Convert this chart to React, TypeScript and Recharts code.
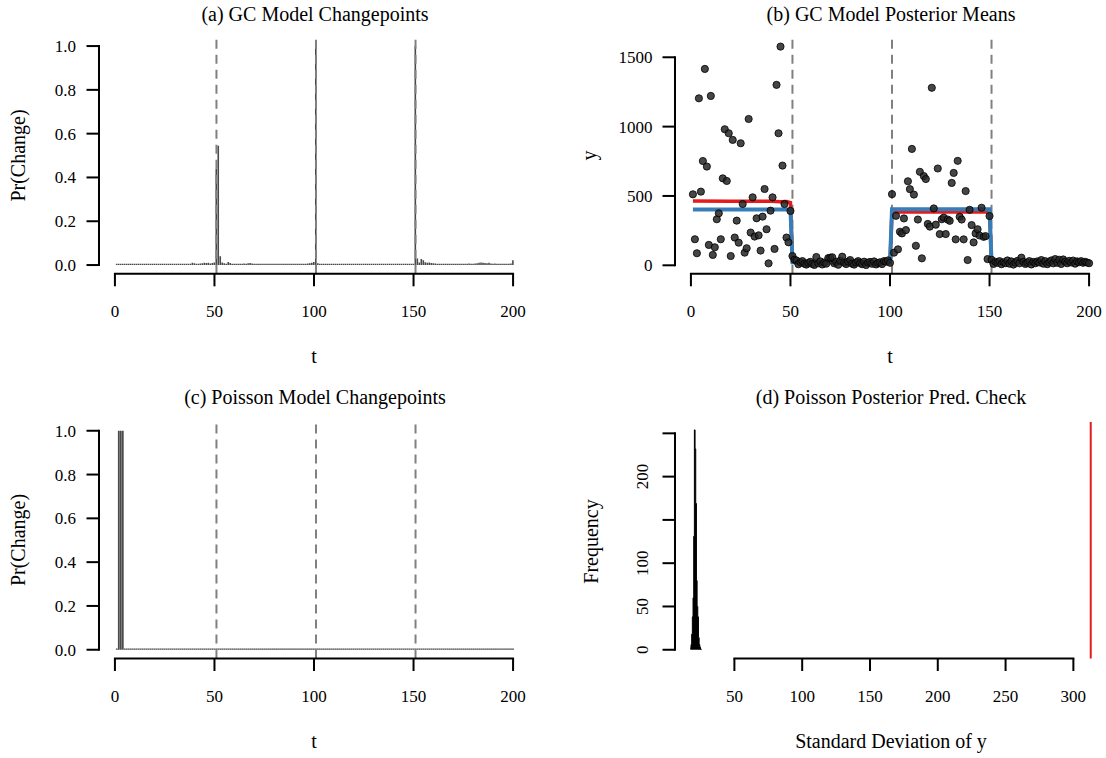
import React from 'react';
import {
  BarChart,
  Bar,
  ComposedChart,
  Scatter,
  Line,
  Area,
  XAxis,
  YAxis,
  ReferenceLine,
} from 'recharts';

const FONT = "'Liberation Serif', 'Times New Roman', serif";

// ---------- shared ticks / markers ----------
const timeTicks = [0, 50, 100, 150, 200];
const probTicks = [0, 0.2, 0.4, 0.6, 0.8, 1.0];
const probTickLabels = ['0.0', '0.2', '0.4', '0.6', '0.8', '1.0'];
const yTicksB = [0, 500, 1000, 1500];
const freqTicks = [0, 50, 100, 150, 200, 250];
const freqTickLabels = ['0', '50', '100', '', '200', ''];
const sdTicks = [50, 100, 150, 200, 250, 300];
const changepoints = [51, 101, 151];

// ---------- (a) GC model changepoint probabilities, t = 1..200 ----------
const gcChangeProb = [
  0.003, 0.003, 0.003, 0.002, 0.003, 0.003, 0.003, 0.002, 0.003, 0.003, 0.003, 0.003, 0.002, 0.003, 0.003, 0.003, 0.003, 0.003, 0.002, 0.003,
  0.003, 0.003, 0.003, 0.003, 0.003, 0.002, 0.003, 0.003, 0.003, 0.003, 0.003, 0.003, 0.004, 0.003, 0.004, 0.004, 0.005, 0.006, 0.010, 0.008,
  0.005, 0.006, 0.007, 0.008, 0.011, 0.009, 0.010, 0.007, 0.009, 0.012, 0.440, 0.545, 0.040, 0.012, 0.008, 0.006, 0.014, 0.009, 0.006, 0.005,
  0.006, 0.005, 0.006, 0.005, 0.007, 0.006, 0.008, 0.009, 0.007, 0.006, 0.005, 0.006, 0.005, 0.004, 0.005, 0.004, 0.004, 0.004, 0.005, 0.004,
  0.004, 0.005, 0.004, 0.004, 0.005, 0.004, 0.004, 0.005, 0.004, 0.005, 0.004, 0.004, 0.005, 0.005, 0.006, 0.006, 0.007, 0.008, 0.010, 0.014,
  1.000, 0.008, 0.006, 0.005, 0.006, 0.005, 0.004, 0.005, 0.005, 0.004, 0.004, 0.004, 0.004, 0.005, 0.004, 0.004, 0.004, 0.003, 0.004, 0.004,
  0.005, 0.004, 0.005, 0.004, 0.004, 0.005, 0.004, 0.004, 0.004, 0.005, 0.004, 0.004, 0.005, 0.004, 0.004, 0.004, 0.005, 0.004, 0.004, 0.004,
  0.004, 0.004, 0.004, 0.004, 0.005, 0.004, 0.004, 0.004, 0.005, 0.006, 1.000, 0.030, 0.012, 0.028, 0.022, 0.013, 0.010, 0.012, 0.009, 0.008,
  0.007, 0.006, 0.006, 0.005, 0.006, 0.005, 0.005, 0.004, 0.004, 0.004, 0.005, 0.004, 0.005, 0.005, 0.006, 0.005, 0.006, 0.007, 0.006, 0.006,
  0.007, 0.008, 0.010, 0.012, 0.011, 0.009, 0.008, 0.010, 0.007, 0.006, 0.007, 0.006, 0.005, 0.006, 0.006, 0.005, 0.006, 0.006, 0.007, 0.022,
];

// ---------- (b) observed series y, t = 1..200 ----------
const observedY = [
  512, 188, 87, 1204, 531, 752, 1416, 712, 147, 1221, 75, 130, 332, 375, 188, 627, 981, 608, 952, 67,
  904, 200, 322, 163, 880, 442, 91, 123, 1055, 236, 490, 207, 339, 216, 106, 351, 550, 260, 14, 394,
  490, 118, 1301, 952, 1577, 719, 442, 200, 166, 392, 67, 40, 35, 8, 22, 30, 12, 5, 18, 25,
  10, 3, 60, 15, 28, 6, 20, 12, 52, 55, 58, 14, 25, 4, 33, 62, 18, 9, 27, 38,
  12, 5, 21, 30, 16, 8, 26, 2, 19, 24, 11, 28, 6, 17, 22, 9, 30, 26, 35, 18,
  513, 91, 357, 115, 242, 230, 338, 254, 606, 549, 839, 510, 141, 330, 674, 50, 643, 622, 298, 279,
  1280, 410, 293, 698, 225, 332, 344, 225, 330, 321, 594, 666, 187, 753, 350, 330, 187, 535, 38, 400,
  290, 165, 230, 260, 215, 415, 205, 210, 45, 355, 40, 10, 25, 18, 30, 8, 22, 15, 35, 12,
  28, 5, 20, 32, 14, 55, 25, 10, 18, 30, 6, 24, 15, 28, 20, 38, 12, 30, 8, 22,
  35, 14, 45, 18, 40, 10, 42, 26, 15, 32, 20, 34, 12, 28, 22, 30, 18, 25, 20, 15,
];

// posterior mean (red) breakpoints
const postMeanT = [1, 20, 40, 45, 48, 50, 51, 52, 100, 101, 150, 151, 200];
const postMeanV = [463, 462, 461, 458, 460, 452, 28, 20, 17, 386, 384, 22, 20];
// underlying mean (blue) breakpoints
const trueMeanT = [1, 50, 51, 100, 101, 150, 151, 200];
const trueMeanV = [403, 403, 22, 22, 405, 405, 22, 20];

// ---------- (c) Poisson model changepoint probabilities, t = 1..200 ----------
const poissonChangeProb = [
  0, 1, 1, 1, 0, 0, 0, 0, 0, 0, 0, 0, 0, 0, 0, 0, 0, 0, 0, 0,
  0, 0, 0, 0, 0, 0, 0, 0, 0, 0, 0, 0, 0, 0, 0, 0, 0, 0, 0, 0,
  0, 0, 0, 0, 0, 0, 0, 0, 0, 0, 0, 0, 0, 0, 0, 0, 0, 0, 0, 0,
  0, 0, 0, 0, 0, 0, 0, 0, 0, 0, 0, 0, 0, 0, 0, 0, 0, 0, 0, 0,
  0, 0, 0, 0, 0, 0, 0, 0, 0, 0, 0, 0, 0, 0, 0, 0, 0, 0, 0, 0,
  0, 0, 0, 0, 0, 0, 0, 0, 0, 0, 0, 0, 0, 0, 0, 0, 0, 0, 0, 0,
  0, 0, 0, 0, 0, 0, 0, 0, 0, 0, 0, 0, 0, 0, 0, 0, 0, 0, 0, 0,
  0, 0, 0, 0, 0, 0, 0, 0, 0, 0, 0, 0, 0, 0, 0, 0, 0, 0, 0, 0,
  0, 0, 0, 0, 0, 0, 0, 0, 0, 0, 0, 0, 0, 0, 0, 0, 0, 0, 0, 0,
  0, 0, 0, 0, 0, 0, 0, 0, 0, 0, 0, 0, 0, 0, 0, 0, 0, 0, 0, 0,
];

// ---------- (d) histogram of replicated SDs ----------
const sdBinStart = [17.5, 18, 18.5, 19, 19.5, 20, 20.5, 21, 21.5, 22, 22.5, 23, 23.5, 24, 24.5, 25, 25.5];
const sdBinCount = [2, 6, 18, 38, 60, 131, 254, 232, 169, 80, 50, 38, 14, 6, 3, 1, 0];
const observedSd = 312.8;

// ---------- tables built from the arrays ----------
const gcData = gcChangeProb.map((p, i) => ({ t: i + 1, p }));
const poisData = poissonChangeProb.map((p, i) => ({ t: i + 1, p }));
const obsData = observedY.map((y, i) => ({ t: i + 1, y }));
const postMeanData = postMeanT.map((t, i) => ({ t, v: postMeanV[i] }));
const trueMeanData = trueMeanT.map((t, i) => ({ t, v: trueMeanV[i] }));
const histData = sdBinStart.map((x, i) => ({ x, n: sdBinCount[i] }));

// ---------- styling ----------
const tickStyle = { fontSize: 17, fill: '#000', fontFamily: FONT };
const tickLineStyle = { stroke: '#000', strokeWidth: 2 };
const AXIS = { stroke: '#000', strokeWidth: 2, strokeLinecap: 'square' as const };
const DASH = { stroke: '#808080', strokeWidth: 2, strokeDasharray: '9 6' };

const Dot = (props: any) => (
  <circle cx={props.cx} cy={props.cy} r={3.6} fill="#262626" fillOpacity={0.85} stroke="#000" strokeWidth={0.8} />
);

const RotTick = (props: any) => {
  const { x, y, payload } = props;
  const idx = freqTicks.indexOf(payload.value);
  const label = idx >= 0 ? freqTickLabels[idx] : String(payload.value);
  return (
    <text
      x={x}
      y={y}
      transform={`rotate(-90 ${x} ${y})`}
      textAnchor="middle"
      fontSize={17}
      fontFamily={FONT}
      fill="#000"
    >
      {label}
    </text>
  );
};

const probFmt = (v: number) => {
  const idx = probTicks.findIndex((p) => Math.abs(p - v) < 1e-9);
  return idx >= 0 ? probTickLabels[idx] : v.toFixed(1);
};

const PLOT_H = 236.5;

export default function App() {
  const panel = (left: number, top: number): React.CSSProperties => ({ position: 'absolute', left, top });
  return (
    <div
      style={{
        position: 'absolute',
        left: 0,
        top: 0,
        width: 1106,
        height: 758,
        background: '#fff',
        overflow: 'hidden',
        fontFamily: FONT,
      }}
    >
      {/* (a) */}
      <div style={panel(0, 0)}>
        <BarChart width={553} height={379} data={gcData} margin={{ top: 37.3, right: 24, bottom: 379 - 37.3 - PLOT_H - 60, left: 0 }}>
          <XAxis
            type="number"
            dataKey="t"
            domain={[-8, 208]}
            ticks={timeTicks}
            interval={0}
            allowDataOverflow
            axisLine={false}
            tickLine={tickLineStyle}
            tickSize={12.5}
            tickMargin={19}
            tick={tickStyle}
            height={60}
          />
          <YAxis
            type="number"
            domain={[-0.04, 1.04]}
            ticks={probTicks}
            interval={0}
            allowDataOverflow
            axisLine={false}
            tickLine={tickLineStyle}
            tickSize={12.5}
            tickMargin={10.5}
            tick={tickStyle}
            tickFormatter={probFmt}
            width={99}
          />
          {changepoints.map((c) => (
            <ReferenceLine key={c} x={c} {...DASH} ifOverflow="visible" />
          ))}
          <Bar dataKey="p" fill="#4a4a4a" barSize={1.6} minPointSize={1.2} isAnimationActive={false} />
          <ReferenceLine segment={[{ x: 0, y: -0.04 }, { x: 200, y: -0.04 }]} {...AXIS} ifOverflow="visible" />
          <ReferenceLine segment={[{ x: -8, y: 0 }, { x: -8, y: 1 }]} {...AXIS} ifOverflow="visible" />
        </BarChart>
      </div>

      {/* (b) */}
      <div style={panel(553, 0)}>
        <ComposedChart width={553} height={379} margin={{ top: 37.3, right: 1, bottom: 379 - 37.3 - PLOT_H - 60, left: 0 }}>
          <XAxis
            type="number"
            dataKey="t"
            domain={[-8, 208]}
            ticks={timeTicks}
            interval={0}
            allowDataOverflow
            axisLine={false}
            tickLine={tickLineStyle}
            tickSize={12.5}
            tickMargin={19}
            tick={tickStyle}
            height={60}
          />
          <YAxis
            type="number"
            domain={[-61.3, 1644]}
            ticks={yTicksB}
            interval={0}
            allowDataOverflow
            axisLine={false}
            tickLine={tickLineStyle}
            tickSize={12.5}
            tickMargin={10}
            tick={tickStyle}
            width={122}
          />
          {changepoints.map((c) => (
            <ReferenceLine key={c} x={c} {...DASH} ifOverflow="visible" />
          ))}
          <Scatter data={obsData} dataKey="y" shape={Dot} isAnimationActive={false} />
          <Line data={postMeanData} dataKey="v" stroke="#e41a1c" strokeWidth={3.5} dot={false} type="linear" isAnimationActive={false} />
          <Line data={trueMeanData} dataKey="v" stroke="#377eb8" strokeWidth={4} dot={false} type="linear" isAnimationActive={false} />
          <ReferenceLine segment={[{ x: 0, y: -61.3 }, { x: 200, y: -61.3 }]} {...AXIS} ifOverflow="visible" />
          <ReferenceLine segment={[{ x: -8, y: 0 }, { x: -8, y: 1500 }]} {...AXIS} ifOverflow="visible" />
        </ComposedChart>
      </div>

      {/* (c) */}
      <div style={panel(0, 379)}>
        <BarChart width={553} height={379} data={poisData} margin={{ top: 43, right: 24, bottom: 379 - 43 - PLOT_H - 60, left: 0 }}>
          <XAxis
            type="number"
            dataKey="t"
            domain={[-8, 208]}
            ticks={timeTicks}
            interval={0}
            allowDataOverflow
            axisLine={false}
            tickLine={tickLineStyle}
            tickSize={12.5}
            tickMargin={19}
            tick={tickStyle}
            height={60}
          />
          <YAxis
            type="number"
            domain={[-0.04, 1.04]}
            ticks={probTicks}
            interval={0}
            allowDataOverflow
            axisLine={false}
            tickLine={tickLineStyle}
            tickSize={12.5}
            tickMargin={10.5}
            tick={tickStyle}
            tickFormatter={probFmt}
            width={99}
          />
          {changepoints.map((c) => (
            <ReferenceLine key={c} x={c} {...DASH} ifOverflow="visible" />
          ))}
          <Bar dataKey="p" fill="#4a4a4a" barSize={2} minPointSize={1.2} isAnimationActive={false} />
          <ReferenceLine segment={[{ x: 0, y: -0.04 }, { x: 200, y: -0.04 }]} {...AXIS} ifOverflow="visible" />
          <ReferenceLine segment={[{ x: -8, y: 0 }, { x: -8, y: 1 }]} {...AXIS} ifOverflow="visible" />
        </BarChart>
      </div>

      {/* (d) */}
      <div style={panel(553, 379)}>
        <ComposedChart width={554} height={379} data={histData} margin={{ top: 43, right: 0, bottom: 379 - 43 - PLOT_H - 60, left: 0 }}>
          <XAxis
            type="number"
            dataKey="x"
            domain={[6.2, 324.8]}
            ticks={sdTicks}
            interval={0}
            allowDataOverflow
            axisLine={false}
            tickLine={tickLineStyle}
            tickSize={12.5}
            tickMargin={19}
            tick={tickStyle}
            height={60}
          />
          <YAxis
            type="number"
            domain={[-10.1, 263.1]}
            ticks={freqTicks}
            interval={0}
            allowDataOverflow
            axisLine={false}
            tickLine={tickLineStyle}
            tickSize={12.5}
            tickMargin={14}
            tick={RotTick}
            width={122}
          />
          <Area dataKey="n" type="stepAfter" fill="#000" fillOpacity={1} stroke="#000" strokeWidth={1} dot={false} isAnimationActive={false} />
          <ReferenceLine x={observedSd} stroke="#e41a1c" strokeWidth={2} ifOverflow="visible" />
          <ReferenceLine segment={[{ x: 50, y: -10.1 }, { x: 300, y: -10.1 }]} {...AXIS} ifOverflow="visible" />
          <ReferenceLine segment={[{ x: 6.2, y: 0 }, { x: 6.2, y: 250 }]} {...AXIS} ifOverflow="visible" />
        </ComposedChart>
      </div>

      {/* titles and axis titles */}
      <svg
        width={1106}
        height={758}
        style={{ position: 'absolute', left: 0, top: 0, pointerEvents: 'none' }}
        fontFamily={FONT}
        fill="#000"
      >
        <text x={315} y={20.5} textAnchor="middle" fontSize={20}>(a) GC Model Changepoints</text>
        <text x={891} y={20.5} textAnchor="middle" fontSize={20}>(b) GC Model Posterior Means</text>
        <text x={315} y={404} textAnchor="middle" fontSize={20}>(c) Poisson Model Changepoints</text>
        <text x={891} y={404} textAnchor="middle" fontSize={20}>(d) Poisson Posterior Pred. Check</text>

        <text x={314} y={363} textAnchor="middle" fontSize={20}>t</text>
        <text x={890} y={363} textAnchor="middle" fontSize={20}>t</text>
        <text x={314} y={748} textAnchor="middle" fontSize={20}>t</text>
        <text x={891} y={748} textAnchor="middle" fontSize={20}>Standard Deviation of y</text>

        <text x={24.5} y={155.5} textAnchor="middle" fontSize={20} transform="rotate(-90 24.5 155.5)">Pr(Change)</text>
        <text x={24.5} y={540} textAnchor="middle" fontSize={20} transform="rotate(-90 24.5 540)">Pr(Change)</text>
        <text x={595.5} y={155.5} textAnchor="middle" fontSize={20} transform="rotate(-90 595.5 155.5)">y</text>
        <text x={598} y={541.5} textAnchor="middle" fontSize={20} transform="rotate(-90 598 541.5)">Frequency</text>
      </svg>
    </div>
  );
}
